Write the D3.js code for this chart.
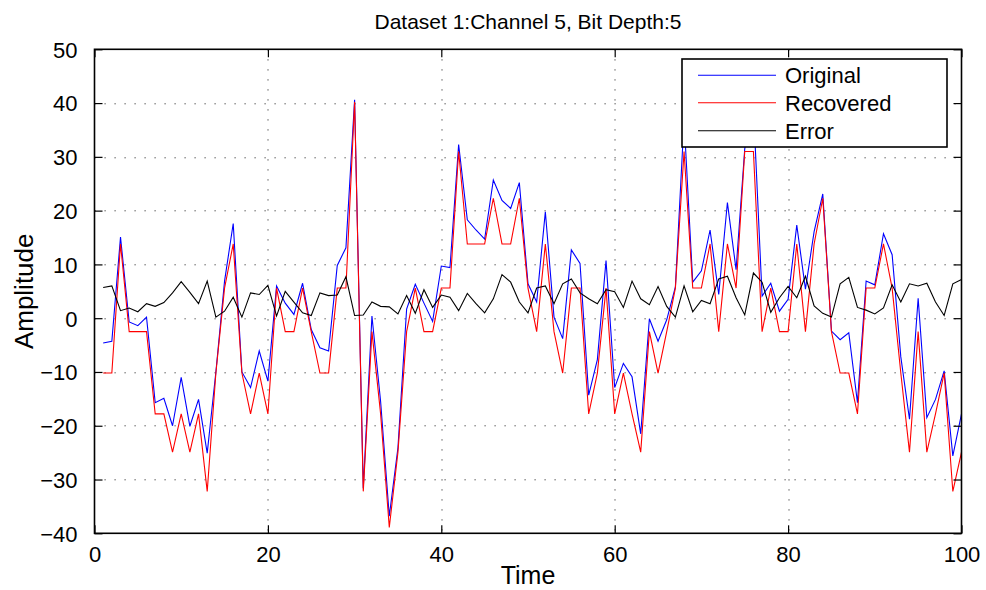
<!DOCTYPE html>
<html>
<head>
<meta charset="utf-8">
<script src="https://cdn.jsdelivr.net/npm/d3@7/dist/d3.min.js"></script>
<style>
  html, body { margin: 0; padding: 0; background: #fff; }
  svg { display: block; font-family: "Liberation Sans", Arial, sans-serif; }
</style>
</head>
<body>
<svg id="chart" width="986" height="590"></svg>
<script>
// ---- data (x = 1..100) ----
const timeSteps = d3.range(1, 101);

const original = [
  -4.6, -4.3, 15.1, -0.7, -1.4, 0.2, -15.7, -14.9, -20.0, -11.0,
  -20.1, -15.1, -25.1, -10.0, 6.9, 17.6, -10.0, -12.9, -6.1, -11.7,
  6.0, 2.8, 0.7, 6.5, -2.1, -5.5, -6.1, 9.8, 13.1, 40.6,
  -31.6, 0.4, -15.5, -36.8, -24.1, 1.7, 6.3, 2.8, -0.6, 9.7,
  9.4, 32.3, 18.3, 16.4, 14.7, 25.7, 21.9, 20.4, 25.2, 6.4,
  3.0, 19.8, 0.2, -3.8, 12.7, 10.2, -14.3, -7.7, 10.7, -12.9,
  -8.4, -10.9, -21.5, -0.1, -4.3, -0.3, 5.8, 36.9, 6.7, 8.8,
  16.4, 4.4, 21.5, 9.0, 31.5, 39.3, 4.1, 6.5, 1.3, 3.5,
  17.3, 5.4, 16.1, 23.1, -2.4, -4.0, -2.7, -15.7, 6.9, 6.2,
  15.7, 11.8, -7.2, -18.8, 3.7, -18.5, -15.1, -9.8, -25.6, -17.8
];

const recovered = [
  -10.2, -10.2, 13.8, -2.5, -2.5, -2.5, -17.8, -17.8, -24.9, -17.8,
  -24.9, -17.8, -32.2, -10.2, 5.6, 13.8, -10.2, -17.8, -10.2, -17.8,
  5.6, -2.5, -2.5, 5.6, -2.5, -10.2, -10.2, 5.6, 5.6, 40.2,
  -32.2, -2.5, -17.8, -38.9, -24.9, -2.5, 5.6, -2.5, -2.5, 5.6,
  5.6, 31.0, 13.8, 13.8, 13.8, 22.3, 13.8, 13.8, 22.3, 5.6,
  -2.5, 13.8, -2.5, -10.2, 5.6, 5.6, -17.8, -10.2, 5.6, -17.8,
  -10.2, -17.8, -24.9, -2.5, -10.2, -2.5, 5.6, 31.0, 5.6, 5.6,
  13.8, -2.5, 13.8, 5.6, 31.0, 31.0, -2.5, 5.6, -2.5, -2.5,
  13.8, -2.5, 13.8, 22.3, -2.5, -10.2, -10.2, -17.8, 5.6, 5.6,
  13.8, 5.6, -10.2, -24.9, -2.5, -24.9, -17.8, -10.2, -32.2, -24.9
];

const errorVals = [
  5.7, 6.0, 1.4, 1.9, 1.2, 2.7, 2.2, 2.9, 4.7, 6.8,
  4.8, 2.7, 6.9, 0.2, 1.3, 3.9, 0.2, 4.7, 4.4, 6.1,
  0.4, 5.0, 3.0, 1.0, 0.5, 4.7, 4.2, 4.3, 7.7, 0.5,
  0.6, 3.0, 2.2, 2.1, 0.8, 4.2, 0.9, 5.3, 2.0, 4.3,
  3.9, 1.4, 4.6, 2.7, 1.0, 3.6, 8.1, 6.7, 3.0, 1.0,
  5.6, 6.0, 2.7, 6.4, 7.3, 4.7, 3.6, 2.7, 5.3, 4.9,
  2.0, 6.9, 3.6, 2.5, 5.9, 2.2, 0.2, 6.0, 1.2, 3.3,
  2.7, 7.3, 7.8, 3.8, 0.6, 8.4, 6.7, 1.1, 3.8, 5.9,
  3.8, 7.8, 2.3, 0.9, 0.2, 6.4, 7.6, 2.0, 1.5, 0.8,
  1.9, 6.2, 3.0, 6.4, 6.0, 6.5, 3.0, 0.5, 6.4, 7.2
];

const seriesNames = ["Original", "Recovered", "Error"];
const seriesColors = ["#0000ff", "#ff0000", "#000000"];
const xTicks = [0, 20, 40, 60, 80, 100];
const yTicks = [-40, -30, -20, -10, 0, 10, 20, 30, 40, 50];
const titleText = "Dataset 1:Channel 5, Bit Depth:5";
const xLabel = "Time";
const yLabel = "Amplitude";

// ---- layout ----
const W = 986, H = 590;
const m = { left: 94.5, right: 986 - 961.5, top: 49.3, bottom: 590 - 533.3 };
const iw = W - m.left - m.right, ih = H - m.top - m.bottom;

const svg = d3.select("#chart");
const g = svg.append("g").attr("transform", `translate(${m.left},${m.top})`);

const x = d3.scaleLinear().domain([0, 100]).range([0, iw]);
const y = d3.scaleLinear().domain([-40, 50]).range([ih, 0]);

// grid
const grid = g.append("g").attr("class", "grid")
  .attr("stroke", "#3a3a3a").attr("stroke-width", 1).attr("stroke-dasharray", "1.2,8.8");
grid.selectAll("line.gx").data(xTicks.slice(1, -1)).join("line")
  .attr("x1", d => Math.round(x(d)) + 0.5).attr("x2", d => Math.round(x(d)) + 0.5)
  .attr("y1", 0).attr("y2", ih);
grid.selectAll("line.gy").data(yTicks.slice(1, -1)).join("line")
  .attr("y1", d => Math.round(y(d)) + 0.5).attr("y2", d => Math.round(y(d)) + 0.5)
  .attr("x1", 0).attr("x2", iw);

// clip
svg.append("defs").append("clipPath").attr("id", "plotclip")
  .append("rect").attr("x", 0).attr("y", 0).attr("width", iw).attr("height", ih);

// lines
const seriesData = [original, recovered, errorVals];
const lineGen = d3.line().x((d, i) => x(timeSteps[i])).y(d => y(d));
const lines = g.append("g").attr("clip-path", "url(#plotclip)");
seriesData.forEach((vals, k) => {
  lines.append("path").datum(vals)
    .attr("d", lineGen)
    .attr("fill", "none")
    .attr("stroke", seriesColors[k])
    .attr("stroke-width", 1.1)
    .attr("stroke-linejoin", "miter");
});

// axes (inward ticks, MATLAB-like box)
const tickLen = 8;
const axBottom = d3.axisBottom(x).tickValues(xTicks).tickSize(-tickLen).tickPadding(tickLen + 4).tickFormat(d3.format("d"));
const axTop = d3.axisTop(x).tickValues(xTicks).tickSize(-tickLen).tickFormat("");
const axLeft = d3.axisLeft(y).tickValues(yTicks).tickSize(-tickLen).tickPadding(tickLen + 9)
  .tickFormat(d => d < 0 ? "\u2212" + Math.abs(d) : String(d));
const axRight = d3.axisRight(y).tickValues(yTicks).tickSize(-tickLen).tickFormat("");

function styleAxis(sel) {
  sel.select(".domain").remove();
  sel.selectAll(".tick line").attr("stroke", "#000").attr("stroke-width", 1.2);
  sel.selectAll(".tick text").attr("fill", "#000").style("font-size", "22px")
    .style("font-family", "'Liberation Sans', Arial, sans-serif");
}
g.append("g").attr("transform", `translate(0,${ih})`).call(axBottom).call(styleAxis)
  .selectAll(".tick text").attr("dy", "0.75em");
g.append("g").call(axTop).call(styleAxis);
g.append("g").call(axLeft).call(styleAxis)
  .selectAll(".tick text").attr("dy", "0.36em");
g.append("g").attr("transform", `translate(${iw},0)`).call(axRight).call(styleAxis);

// frame
g.append("rect").attr("x", 0).attr("y", 0).attr("width", iw).attr("height", ih)
  .attr("fill", "none").attr("stroke", "#000").attr("stroke-width", 1.6);

// title & labels
svg.append("text").attr("x", m.left + iw / 2).attr("y", 29)
  .attr("text-anchor", "middle").style("font-size", "21px").attr("fill", "#000")
  .text(titleText);
svg.append("text").attr("x", m.left + iw / 2).attr("y", 584)
  .attr("text-anchor", "middle").style("font-size", "25px").attr("fill", "#000")
  .text(xLabel);
svg.append("text").attr("transform", `translate(33,${m.top + ih / 2}) rotate(-90)`)
  .attr("text-anchor", "middle").style("font-size", "26px").attr("fill", "#000")
  .text(yLabel);

// legend
const lg = svg.append("g").attr("class", "legend");
const lgBox = { x: 682, y: 59, w: 265, h: 88 };
lg.append("rect").attr("x", lgBox.x).attr("y", lgBox.y).attr("width", lgBox.w).attr("height", lgBox.h)
  .attr("fill", "#fff").attr("stroke", "#000").attr("stroke-width", 1.6);
const lgRows = [75.3, 102.7, 130.7];
seriesNames.forEach((name, k) => {
  lg.append("line").attr("x1", 698).attr("x2", 776).attr("y1", lgRows[k]).attr("y2", lgRows[k])
    .attr("stroke", seriesColors[k]).attr("stroke-width", 1.1);
  lg.append("text").attr("x", 785).attr("y", lgRows[k]).attr("dy", "0.36em")
    .style("font-size", "22px").attr("fill", "#000").text(name);
});
</script>
</body>
</html>
